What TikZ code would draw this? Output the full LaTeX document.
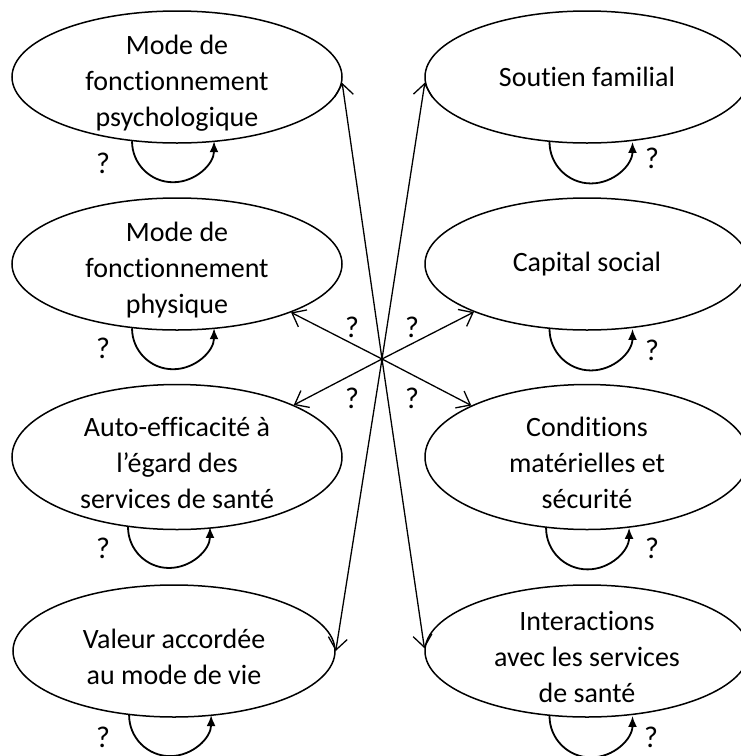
\documentclass[tikz,border=0pt]{standalone}
\usepackage{fontspec}
\setmainfont{Carlito}[Ligatures=NoCommon, Contextuals=NoAlternate]
\usetikzlibrary{arrows.meta,shapes.geometric}

\newcommand\haut{\rule{0pt}{31pt}}

\tikzset{
  facteur/.style={ellipse, draw, line width=1.5pt, minimum width=330pt,
    minimum height=132pt, inner xsep=0pt, inner ysep=-8pt, align=center,
    font=\fontsize{28}{36}\selectfont},
  lien/.style={-{Straight Barb[length=12pt,width=19pt]}, line width=1.3pt},
  boucle/.style={-{Latex[length=11pt,width=9pt]}, line width=1.8pt},
  qm/.style={font=\fontsize{30}{34}\selectfont, inner sep=0pt}
}

\begin{document}
\begin{tikzpicture}[x=1pt,y=1pt]
  \useasboundingbox (0,0) rectangle (740,-756);

  % individu
  \node[facteur] (psy) at (177,-77) {\haut Mode de\\fonctionnement\\psychologique};
  \node[facteur] (phy) at (177,-264) {\haut Mode de\\fonctionnement\\physique};
  \node[facteur, minimum height=145pt] (auto) at (177,-457) {\haut Auto-efficacité à\\l’égard des\\services de santé};
  \node[facteur, minimum width=322pt] (val) at (174,-651) {\haut Valeur accordée\\au mode de vie};

  % environnement
  \node[facteur, minimum width=324pt] (sou) at (587,-77) {Soutien familial};
  \node[facteur, minimum width=324pt] (cap) at (587,-264) {Capital social};
  \node[facteur, minimum width=324pt, minimum height=145pt] (cond) at (587,-457) {\haut Conditions\\matérielles et\\sécurité};
  \node[facteur, minimum width=324pt] (inter) at (587,-651) {\haut Interactions\\avec les services\\de santé};

  \coordinate (hub) at (382,-359);

  \draw[lien] (hub) -- (psy.358);
  \draw[lien] (hub) -- (phy.337.5);
  \draw[lien] (hub) -- (auto.24);
  \draw[lien] (hub) -- (val.0);
  \draw[lien] (hub) -- (sou.182);
  \draw[lien] (hub) -- (cap.203);
  \draw[lien] (hub) -- (cond.156);
  \draw[lien] (hub) -- (inter.179);

  % boucles
  \foreach \f in {psy,phy,auto,val}
    \draw[boucle] (\f.235) arc[start angle=180, end angle=360, radius=41];
  \foreach \f in {sou,cap,cond,inter}
    \draw[boucle] (\f.240) arc[start angle=180, end angle=360, radius=41.5];

  \node[qm] (qa) at (352,-327) {?};
  \node[qm] (qb) at (412,-327) {?};
  \node[qm] (qc) at (352,-398) {?};
  \node[qm] (qd) at (412,-398) {?};

  \node[qm] (qpsy) at (103,-163) {?};
  \node[qm] (qphy) at (103,-348) {?};
  \node[qm] (qauto) at (103,-548) {?};
  \node[qm] (qval) at (103,-737) {?};
  \node[qm] (qsou) at (652,-158) {?};
  \node[qm] (qcap) at (652,-350) {?};
  \node[qm] (qcond) at (652,-548) {?};
  \node[qm] (qinter) at (651,-737) {?};
\end{tikzpicture}
\end{document}
